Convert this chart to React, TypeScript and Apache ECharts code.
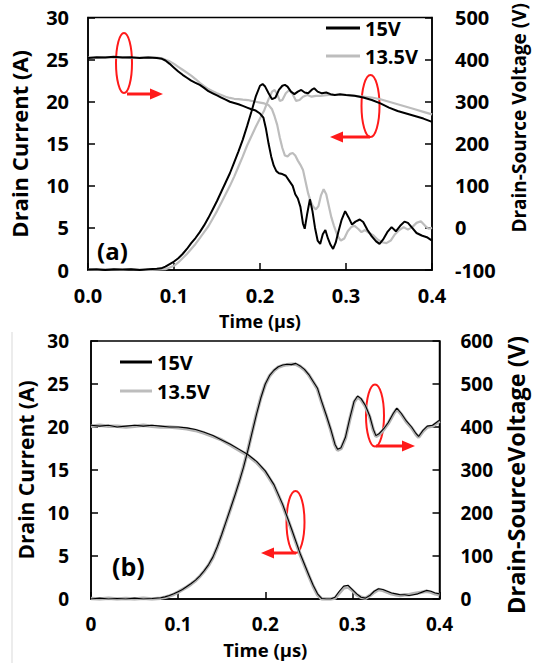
import React, { useEffect, useRef } from "react";
import * as echarts from "echarts";

const FONT = "'Open Sans', 'Liberation Sans', sans-serif";

// ---------- Panel (a) : turn-on ----------
const aTicksX = [0, 0.1, 0.2, 0.3, 0.4];
const a15Current: [number, number][] = [
  [0, 0.05], [0.01, 0.1], [0.02, 0], [0.03, 0.1], [0.04, 0.05], [0.05, 0.1], [0.06, 0], [0.07, 0.1],
  [0.08, 0.15], [0.085, 0.2], [0.09, 0.4], [0.095, 0.7], [0.1, 1.0], [0.105, 1.4], [0.11, 1.9],
  [0.115, 2.5], [0.12, 3.2], [0.125, 3.8], [0.13, 4.5], [0.135, 5.3], [0.14, 6.2], [0.145, 7.2],
  [0.15, 8.2], [0.155, 9.3], [0.16, 10.4], [0.165, 11.5], [0.17, 12.8], [0.175, 14.1], [0.18, 15.5],
  [0.185, 17.1], [0.19, 18.8], [0.195, 20.6], [0.2, 21.9], [0.203, 22.1], [0.206, 21.8], [0.21, 21.0],
  [0.214, 20.3], [0.218, 20.5], [0.222, 21.4], [0.226, 21.9], [0.229, 22.0], [0.232, 21.8], [0.236, 21.2],
  [0.24, 20.9], [0.244, 21.2], [0.248, 21.4], [0.252, 21.1], [0.256, 21.0], [0.26, 21.4], [0.263, 21.6],
  [0.267, 21.2], [0.272, 21.0], [0.277, 21.1], [0.282, 20.9], [0.287, 20.8], [0.293, 20.9], [0.3, 20.8],
  [0.31, 20.7], [0.32, 20.5], [0.33, 20.2], [0.34, 19.8], [0.35, 19.3], [0.36, 18.9], [0.37, 18.6],
  [0.38, 18.3], [0.39, 18.0], [0.4, 17.6],
];
const a135Current: [number, number][] = [
  [0, 0.05], [0.01, 0], [0.02, 0.1], [0.03, 0.05], [0.04, 0], [0.05, 0.1], [0.06, 0.05], [0.07, 0],
  [0.08, 0.05], [0.09, 0.1], [0.095, 0.3], [0.1, 0.5], [0.105, 0.9], [0.11, 1.4], [0.115, 1.9],
  [0.12, 2.5], [0.125, 3.1], [0.13, 3.8], [0.135, 4.5], [0.14, 5.2], [0.145, 6.1], [0.15, 7.0],
  [0.155, 8.0], [0.16, 9.0], [0.165, 10.0], [0.17, 11.1], [0.175, 12.3], [0.18, 13.5], [0.185, 14.8],
  [0.19, 15.9], [0.195, 17.0], [0.2, 18.0], [0.205, 19.0], [0.21, 20.3], [0.214, 21.2], [0.217, 21.4],
  [0.22, 20.9], [0.223, 20.1], [0.226, 20.2], [0.23, 21.0], [0.234, 21.4], [0.238, 20.9], [0.242, 20.1],
  [0.246, 20.2], [0.25, 20.6], [0.255, 20.8], [0.26, 20.6], [0.265, 20.7], [0.27, 20.7], [0.28, 20.8],
  [0.29, 20.8], [0.3, 20.8], [0.31, 20.7], [0.32, 20.6], [0.33, 20.5], [0.34, 20.3], [0.35, 20.0],
  [0.36, 19.7], [0.37, 19.4], [0.38, 19.1], [0.39, 18.8], [0.4, 18.5],
];
const a15Voltage: [number, number][] = [
  [0, 404], [0.01, 406], [0.02, 405], [0.03, 407], [0.04, 405], [0.05, 406], [0.06, 404], [0.07, 405],
  [0.08, 404], [0.086, 402], [0.09, 398], [0.095, 390], [0.1, 381], [0.105, 372], [0.11, 364],
  [0.115, 357], [0.12, 350], [0.125, 345], [0.13, 340], [0.135, 333], [0.14, 325], [0.145, 320],
  [0.15, 315], [0.155, 310], [0.16, 305], [0.165, 300], [0.17, 297], [0.175, 294], [0.18, 290],
  [0.185, 286], [0.19, 282], [0.195, 279], [0.2, 272], [0.204, 262], [0.207, 235], [0.21, 200],
  [0.213, 170], [0.216, 148], [0.219, 135], [0.222, 130], [0.226, 128], [0.23, 124], [0.234, 112],
  [0.238, 100], [0.241, 80], [0.244, 70], [0.247, 50], [0.25, 10], [0.252, -2], [0.255, 35],
  [0.258, 68], [0.261, 40], [0.264, 0], [0.267, -30], [0.27, -38], [0.273, -15], [0.276, -5],
  [0.279, -25], [0.282, -40], [0.285, -50], [0.288, -35], [0.291, -10], [0.295, 20], [0.299, 40],
  [0.303, 25], [0.307, 8], [0.311, 15], [0.316, 20], [0.32, 14], [0.325, -5], [0.33, -20],
  [0.335, -32], [0.339, -38], [0.343, -28], [0.348, -10], [0.353, 2], [0.358, -8], [0.363, 5],
  [0.368, 15], [0.372, 12], [0.377, 0], [0.382, -12], [0.388, -18], [0.394, -22], [0.4, -30],
];
const a135Voltage: [number, number][] = [
  [0, 405], [0.01, 404], [0.02, 406], [0.03, 405], [0.04, 406], [0.05, 404], [0.06, 405], [0.07, 406],
  [0.08, 405], [0.086, 403], [0.09, 400], [0.095, 396], [0.1, 390], [0.105, 383], [0.11, 376],
  [0.115, 369], [0.12, 362], [0.125, 354], [0.13, 345], [0.135, 337], [0.14, 330], [0.145, 325],
  [0.15, 320], [0.155, 316], [0.16, 312], [0.165, 309], [0.17, 307], [0.175, 306], [0.18, 305],
  [0.186, 304], [0.19, 302], [0.195, 300], [0.2, 298], [0.205, 296], [0.21, 292], [0.214, 282],
  [0.217, 265], [0.22, 245], [0.223, 215], [0.226, 190], [0.229, 172], [0.232, 170], [0.235, 176],
  [0.238, 178], [0.241, 172], [0.244, 160], [0.247, 150], [0.25, 138], [0.253, 110], [0.256, 82],
  [0.259, 62], [0.262, 50], [0.265, 44], [0.268, 52], [0.271, 78], [0.274, 92], [0.277, 80],
  [0.28, 52], [0.283, 25], [0.286, 5], [0.29, -18], [0.294, -30], [0.298, -25], [0.302, -8],
  [0.306, 2], [0.31, 5], [0.314, -2], [0.318, -10], [0.322, -5], [0.327, -12], [0.332, -18],
  [0.337, -28], [0.342, -34], [0.347, -36], [0.352, -30], [0.357, -15], [0.362, -5], [0.367, 2],
  [0.372, -4], [0.377, 2], [0.382, 12], [0.387, 16], [0.392, 5], [0.396, -2], [0.4, 0],
];

// ---------- Panel (b) : turn-off ----------
const b15Current: [number, number][] = [
  [0, 20.2], [0.01, 20.1], [0.02, 20.2], [0.03, 20.0], [0.04, 20.1], [0.05, 20.2], [0.06, 20.1],
  [0.07, 20.2], [0.08, 20.1], [0.09, 20.0], [0.1, 20.0], [0.11, 19.9], [0.12, 19.7], [0.13, 19.4],
  [0.14, 19.0], [0.15, 18.5], [0.16, 18.0], [0.17, 17.4], [0.18, 16.8], [0.19, 16.0], [0.2, 14.9],
  [0.21, 13.3], [0.22, 11.0], [0.23, 8.2], [0.24, 5.3], [0.25, 2.8], [0.255, 1.6], [0.26, 0.6],
  [0.265, 0.05], [0.27, 0], [0.275, 0], [0.28, 0.2], [0.285, 0.9], [0.29, 1.5], [0.295, 1.6],
  [0.3, 1.1], [0.305, 0.6], [0.31, 0.2], [0.315, 0.1], [0.32, 0.4], [0.325, 0.9], [0.33, 1.2],
  [0.335, 1.1], [0.34, 0.9], [0.345, 0.7], [0.35, 0.6], [0.355, 0.5], [0.36, 0.5], [0.365, 0.4],
  [0.37, 0.5], [0.375, 0.6], [0.38, 0.8], [0.385, 1.0], [0.39, 0.9], [0.395, 0.7], [0.4, 0.6],
];
const b135Current: [number, number][] = [
  [0, 20.1], [0.01, 20.2], [0.02, 20.1], [0.03, 20.1], [0.04, 20.0], [0.05, 20.1], [0.06, 20.2],
  [0.07, 20.1], [0.08, 20.0], [0.09, 20.0], [0.1, 19.9], [0.11, 19.8], [0.12, 19.6], [0.13, 19.3],
  [0.14, 18.9], [0.15, 18.5], [0.16, 17.9], [0.17, 17.3], [0.18, 16.7], [0.19, 15.9], [0.2, 14.8],
  [0.21, 13.2], [0.22, 10.9], [0.23, 8.1], [0.24, 5.2], [0.25, 2.7], [0.255, 1.5], [0.26, 0.5],
  [0.265, 0], [0.27, 0], [0.275, 0], [0.28, 0.1], [0.285, 0.7], [0.29, 1.3], [0.295, 1.4],
  [0.3, 1.0], [0.305, 0.5], [0.31, 0.2], [0.315, 0.1], [0.32, 0.4], [0.325, 0.8], [0.33, 1.1],
  [0.335, 1.0], [0.34, 0.8], [0.345, 0.6], [0.35, 0.5], [0.355, 0.4], [0.36, 0.5], [0.365, 0.5],
  [0.37, 0.6], [0.375, 0.7], [0.38, 0.8], [0.385, 0.9], [0.39, 0.8], [0.395, 0.6], [0.4, 0.5],
];
const b15Voltage: [number, number][] = [
  [0, 0], [0.01, 2], [0.02, 0], [0.03, 1], [0.04, 0], [0.05, 2], [0.06, 0], [0.07, 1], [0.08, 3],
  [0.085, 5], [0.09, 8], [0.095, 12], [0.1, 17], [0.105, 22], [0.11, 29], [0.115, 36], [0.12, 44],
  [0.125, 54], [0.13, 66], [0.135, 80], [0.14, 98], [0.145, 122], [0.15, 150], [0.155, 180],
  [0.16, 210], [0.165, 240], [0.17, 272], [0.175, 306], [0.18, 345], [0.185, 388], [0.19, 430],
  [0.195, 468], [0.2, 500], [0.205, 520], [0.21, 532], [0.215, 540], [0.22, 544], [0.225, 546],
  [0.23, 545], [0.235, 548], [0.24, 542], [0.245, 534], [0.25, 522], [0.255, 506], [0.26, 490],
  [0.265, 458], [0.27, 428], [0.275, 396], [0.28, 360], [0.283, 348], [0.287, 352], [0.292, 376],
  [0.297, 420], [0.302, 460], [0.306, 472], [0.31, 466], [0.315, 450], [0.32, 425], [0.324, 395],
  [0.327, 380], [0.331, 385], [0.336, 396], [0.341, 410], [0.347, 432], [0.351, 444], [0.356, 432],
  [0.362, 414], [0.368, 400], [0.373, 385], [0.376, 378], [0.381, 392], [0.386, 402], [0.392, 404],
  [0.396, 410], [0.4, 416],
];
const b135Voltage: [number, number][] = [
  [0, 1], [0.01, 0], [0.02, 2], [0.03, 0], [0.04, 1], [0.05, 0], [0.06, 2], [0.07, 0], [0.08, 2],
  [0.085, 4], [0.09, 7], [0.095, 11], [0.1, 16], [0.105, 22], [0.11, 28], [0.115, 35], [0.12, 43],
  [0.125, 53], [0.13, 65], [0.135, 79], [0.14, 97], [0.145, 121], [0.15, 149], [0.155, 179],
  [0.16, 209], [0.165, 240], [0.17, 272], [0.175, 307], [0.18, 346], [0.185, 389], [0.19, 431],
  [0.195, 469], [0.2, 499], [0.205, 519], [0.21, 531], [0.215, 539], [0.22, 543], [0.225, 545],
  [0.23, 546], [0.235, 546], [0.24, 541], [0.245, 533], [0.25, 521], [0.255, 505], [0.26, 488],
  [0.265, 456], [0.27, 426], [0.275, 394], [0.28, 358], [0.283, 346], [0.287, 350], [0.292, 374],
  [0.297, 418], [0.302, 458], [0.306, 470], [0.31, 464], [0.315, 448], [0.32, 423], [0.324, 393],
  [0.327, 378], [0.331, 383], [0.336, 394], [0.341, 408], [0.347, 430], [0.351, 442], [0.356, 430],
  [0.362, 412], [0.368, 398], [0.373, 383], [0.376, 376], [0.381, 390], [0.386, 400], [0.392, 402],
  [0.396, 408], [0.4, 414],
];

const legendNames = ["15V", "13.5V"];
const BLACK = "#000000";
const GRAY = "#bdbdbd";
const RED = "#ff1a1a";

function arrow(x1: number, y: number, x2: number) {
  const dir = x2 > x1 ? 1 : -1;
  return [
    { type: "line", shape: { x1, y1: y, x2: x2 - dir * 8, y2: y }, style: { stroke: RED, lineWidth: 3 } },
    {
      type: "polygon",
      shape: { points: [[x2, y], [x2 - dir * 13, y - 5.5], [x2 - dir * 13, y + 5.5]] },
      style: { fill: RED },
    },
  ];
}
function ellipse(cx: number, cy: number, rx: number, ry: number) {
  return { type: "ellipse", shape: { cx, cy, rx, ry }, style: { fill: "none", stroke: RED, lineWidth: 2 } };
}

export default function App() {
  const ref = useRef<HTMLDivElement>(null);
  useEffect(() => {
    document.body.style.margin = "0";
    if (!ref.current) return;
    const chart = echarts.init(ref.current, undefined, { renderer: "svg" });
    const tick = { inside: true, length: 7, lineStyle: { color: BLACK, width: 1.5 } };
    const axisLine = { show: true, lineStyle: { color: BLACK, width: 1.5 } };
    const lbl = (size: number, margin: number, extra: any = {}) => ({
      color: BLACK, fontSize: size, fontWeight: "bold", fontFamily: FONT, margin, ...extra,
    });
    const nameStyle = (size: number, extra: any = {}) => ({
      color: BLACK, fontSize: size, fontWeight: "bold", fontFamily: FONT, ...extra,
    });
    const line = (name: string, data: any, xi: number, yi: number, color: string, width: number, z: number) => ({
      type: "line", name, data, xAxisIndex: xi, yAxisIndex: yi, symbol: "none", showSymbol: false,
      lineStyle: { color, width }, itemStyle: { color }, z, silent: true,
    });
    const option: any = {
      animation: false,
      backgroundColor: "#ffffff",
      textStyle: { fontFamily: FONT },
      grid: [
        { left: 83, top: 11, width: 359, height: 259, show: true, borderColor: BLACK, borderWidth: 1.5 },
        { left: 91, top: 341, width: 358, height: 258, show: true, borderColor: BLACK, borderWidth: 1.5 },
      ],
      xAxis: [
        {
          gridIndex: 0, type: "value", min: aTicksX[0], max: aTicksX[4], interval: 0.1,
          axisLine, axisTick: tick, splitLine: { show: false },
          axisLabel: lbl(20, 15, { formatter: (v: number) => v.toFixed(1) }),
          name: "Time (μs)", nameLocation: "middle", nameGap: 42, nameTextStyle: nameStyle(18),
        },
        {
          gridIndex: 1, type: "value", min: 0, max: 0.4, interval: 0.1,
          axisLine, axisTick: tick, splitLine: { show: false },
          axisLabel: lbl(19, 15, { formatter: (v: number) => (v === 0 ? "0" : v.toFixed(1)) }),
          name: "Time (μs)", nameLocation: "middle", nameGap: 41, nameTextStyle: nameStyle(18.5),
        },
      ],
      yAxis: [
        {
          gridIndex: 0, type: "value", min: 0, max: 30, interval: 5, position: "left",
          axisLine, axisTick: tick, splitLine: { show: false }, axisLabel: lbl(20, 19),
          name: "Drain Current (A)", nameLocation: "middle", nameRotate: 90, nameGap: 58,
          nameTextStyle: nameStyle(22),
        },
        {
          gridIndex: 0, type: "value", min: -100, max: 500, interval: 100, position: "right",
          axisLine, axisTick: tick, splitLine: { show: false }, axisLabel: lbl(20, 23),
          name: "Drain-Source Voltage (V)", nameLocation: "middle", nameRotate: 90, nameGap: 77,
          nameTextStyle: nameStyle(19, { padding: [0, 0, 0, 52] }),
        },
        {
          gridIndex: 1, type: "value", min: 0, max: 30, interval: 5, position: "left",
          axisLine, axisTick: tick, splitLine: { show: false }, axisLabel: lbl(19, 22),
          name: "Drain Current (A)", nameLocation: "middle", nameRotate: 90, nameGap: 51,
          nameTextStyle: nameStyle(21),
        },
        {
          gridIndex: 1, type: "value", min: 0, max: 600, interval: 100, position: "right",
          axisLine, axisTick: tick, splitLine: { show: false }, axisLabel: lbl(19, 21),
          name: "Drain-SourceVoltage (V)", nameLocation: "middle", nameRotate: 90, nameGap: 62,
          nameTextStyle: nameStyle(23.5, { padding: [0, 10, 0, 0] }),
        },
      ],
      legend: [
        {
          data: legendNames, orient: "vertical", left: 326, top: 18, itemWidth: 34, itemHeight: 3,
          itemGap: 8, icon: "rect", padding: 0, selectedMode: false,
          textStyle: { color: BLACK, fontSize: 20, fontWeight: "bold", fontFamily: FONT },
        },
        {
          data: legendNames, orient: "vertical", left: 120, top: 352, itemWidth: 32, itemHeight: 3,
          itemGap: 9, icon: "rect", padding: 0, selectedMode: false,
          textStyle: { color: BLACK, fontSize: 20, fontWeight: "bold", fontFamily: FONT },
        },
      ],
      series: [
        line("13.5V", a135Voltage, 0, 1, GRAY, 2.2, 2),
        line("13.5V", a135Current, 0, 0, GRAY, 2.2, 2),
        line("15V", a15Voltage, 0, 1, BLACK, 2, 3),
        line("15V", a15Current, 0, 0, BLACK, 2, 3),
        line("13.5V", b135Voltage, 1, 3, "#b3b3b3", 3.5, 2),
        line("13.5V", b135Current, 1, 2, "#b3b3b3", 3.5, 2),
        line("15V", b15Voltage, 1, 3, BLACK, 1.1, 3),
        line("15V", b15Current, 1, 2, BLACK, 1.1, 3),
      ],
      graphic: [
        { type: "line", shape: { x1: 12, y1: 332, x2: 12, y2: 663 }, style: { stroke: "#d9d9d9", lineWidth: 1 } },
        { type: "text", x: 97, y: 250, style: { text: "(a)", fill: BLACK, font: `bold 24px ${FONT}`, verticalAlign: "middle" } },
        { type: "text", x: 112, y: 566, style: { text: "(b)", fill: BLACK, font: `bold 25px ${FONT}`, verticalAlign: "middle" } },
        ellipse(124, 63, 8, 30),
        ...arrow(127, 94, 163),
        ellipse(370.5, 106, 9, 31),
        ...arrow(370, 137, 330),
        ellipse(295.5, 522, 9, 31),
        ...arrow(296, 553, 261),
        ellipse(375, 415.5, 9, 31),
        ...arrow(376, 446, 415),
      ],
    };
    chart.setOption(option);
    return () => chart.dispose();
  }, []);
  return <div ref={ref} style={{ width: 536, height: 663 }} />;
}
